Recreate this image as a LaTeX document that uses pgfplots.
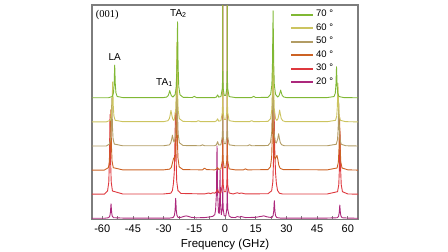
\documentclass[border=0pt]{standalone}
\usepackage{fontspec}
\setmainfont{Liberation Sans}
\newfontfamily\seriffont{Liberation Serif}
\usepackage{pgfplots}
\pgfplotsset{compat=1.18}
\definecolor{c70}{RGB}{128,184,52}
\definecolor{c60}{RGB}{204,196,96}
\definecolor{c50}{RGB}{178,156,100}
\definecolor{c40}{RGB}{204,98,36}
\definecolor{c30}{RGB}{222,56,62}
\definecolor{c20}{RGB}{172,40,124}
\definecolor{framegray}{RGB}{125,125,125}
\begin{document}
\begin{tikzpicture}
\useasboundingbox (0pt,0pt) rectangle (448pt,252pt);
\begin{axis}[
  at={(92pt,32.5pt)}, anchor=south west,
  scale only axis, width=266pt, height=214.5pt,
  xmin=-65, xmax=65, ymin=-0.05, ymax=8.85,
  axis line style={framegray, line width=1.1pt},
  xtick={-60,-45,-30,-15,0,15,30,45,60},
  xticklabels={-60,-45,-30,-15,0,15,30,45,60},
  minor x tick num=1,
  xtick pos=lower,
  tick align=inside,
  major tick length=3pt, minor tick length=3pt,
  tick style={framegray, line width=0.6pt},
  ytick=\empty,
  xticklabel style={font=\fontsize{11}{13}\selectfont, anchor=base, yshift=-13pt},
  xlabel={Frequency (GHz)},
  xlabel style={font=\fontsize{11.5}{13}\selectfont, at={(axis description cs:0.5,-0.13)}, anchor=base},
  reverse legend,
  legend cell align=left,
  legend style={draw=none, fill=none, font=\fontsize{9.5}{11}\selectfont,
    at={(axis description cs:0.744,0.987)}, anchor=north west, inner sep=0pt, row sep=0pt,
    nodes={inner sep=2pt, text height=7pt, text depth=2.5pt}},
  legend image code/.code={\draw[#1, line width=2pt] (0pt,0pt) -- (22pt,0pt);},
  every axis plot/.append style={line width=0.9pt, line join=round},
  clip=true,
]
% 20 deg
\addplot[c20] coordinates {(-65,0)(-59,0)
(-56.9,0.024)(-56.3,0.09)(-56,0.24)(-55.7,0.6)(-55.4,0.24)(-55.1,0.09)(-54.5,0.024)
(-50,0.01)(-27,0.01)
(-25.3,0.033)(-24.7,0.125)(-24.4,0.33)(-24.1,0.83)(-23.8,0.33)(-23.5,0.125)(-22.9,0.033)
(-21.5,0.04)(-20,0.08)(-19,0.1)(-18,0.08)(-16.5,0.04)(-14,0.02)(-10,0.03)(-8,0.05)(-6,0.08)(-5,0.15)
(-4.6,0.35)(-4.2,1.0)(-3.9,3.0)(-3.6,1.0)(-3.2,0.25)
(-2.8,0.2)(-2.6,0.8)(-2.4,2.0)(-2.2,0.6)(-1.8,0.15)
(-1.3,0.4)(-1.1,1.2)(-1.1,20)(-1.1,1.2)(-0.9,0.4)(-0.4,0.1)(0.4,0.1)(0.9,0.4)(1.1,1.2)(1.1,20)(1.1,1.2)(1.3,0.4)(2,0.1)
(3,0.04)(5,0.03)(6,0.07)(7,0.05)(8,0.07)(9,0.05)(10,0.03)(15,0.04)(17,0.07)(19,0.1)(20.5,0.06)(22,0.04)
(22.9,0.03)(23.5,0.11)(23.8,0.29)(24.1,0.73)(24.4,0.29)(24.7,0.11)(25.3,0.03)
(27,0.01)(50,0.01)
(54.9,0.022)(55.5,0.083)(55.8,0.22)(56.1,0.55)(56.4,0.22)(56.7,0.083)(57.3,0.022)
(60,0.01)(65,0)};
\addlegendentry{20 °}
% 30 deg
\addplot[c30] coordinates {(-65,1)(-59,1)
(-57.4,1.132)(-56.8,1.495)(-56.5,2.32)(-56.2,4.3)(-55.9,2.32)(-55.6,1.495)(-55,1.132)
(-50,1.01)(-30,1.01)
(-26.5,1.04)(-25.7,1.15)(-25.2,1.45)(-24.8,1.9)(-24.5,2.9)(-24.2,4.5)(-23.9,2.5)(-23.6,1.55)(-23,1.15)(-21.5,1.03)
(-10,1.01)(-8,1.05)(-7,1.02)(-6,1.06)(-5,1.04)(-4.2,1.1)(-3.6,1.2)(-3.1,1.06)
(-2,1.05)(-1.3,1.4)(-1.1,2.2)(-1.1,21)(-1.1,2.2)(-0.9,1.4)(-0.4,1.1)(0.4,1.1)(0.9,1.4)(1.1,2.2)(1.1,21)(1.1,2.2)(1.3,1.4)(2,1.05)
(4,1.01)(6,1.06)(7,1.03)(8,1.05)(10,1.01)(21,1.02)
(22.8,1.14)(23.4,1.525)(23.7,2.4)(24.0,4.5)(24.3,2.9)(24.7,1.9)(25.1,1.45)(25.7,1.15)(26.6,1.04)(28,1.01)
(50,1.01)
(55,1.104)(55.6,1.39)(55.9,2.04)(56.2,3.6)(56.5,2.04)(56.8,1.39)(57.4,1.104)
(60,1.01)(65,1)};
\addlegendentry{30 °}
% 40 deg
\addplot[c40] coordinates {(-65,2)(-59,2)
(-57,2.1)(-56.4,2.375)(-56.1,3.0)(-55.8,4.5)(-55.5,3.0)(-55.2,2.375)(-54.6,2.1)
(-50,2.01)(-30,2.01)
(-27,2.04)(-26.2,2.12)(-25.6,2.33)(-25.1,2.5)(-24.6,2.45)(-24.2,2.6)(-23.9,3.4)(-23.6,5.4)(-23.3,3.36)(-23,2.51)(-22.4,2.136)(-20.5,2.02)
(-11,2.01)(-10,2.08)(-9,2.02)
(-5,2.01)(-4.2,2.04)(-3.6,2.1)(-3.1,2.03)
(-2,2.05)(-1.3,2.4)(-1.1,3.2)(-1.1,22)(-1.1,3.2)(-0.9,2.4)(-0.4,2.1)(0.4,2.1)(0.9,2.4)(1.1,3.2)(1.1,22)(1.1,3.2)(1.3,2.4)(2,2.05)
(5,2.01)(9,2.01)(10,2.05)(11,2.01)(21,2.02)
(22.2,2.14)(22.8,2.525)(23.1,3.4)(23.4,5.5)(23.7,3.4)(24.0,2.6)(24.5,2.45)(25,2.55)(25.4,2.61)(25.8,2.45)(26.3,2.2)(27,2.07)(28.5,2.02)
(50,2.01)
(54.8,2.088)(55.4,2.33)(55.7,2.88)(56,4.2)(56.3,2.88)(56.6,2.33)(57.2,2.088)
(60,2.01)(65,2)};
\addlegendentry{40 °}
% 50 deg
\addplot[c50] coordinates {(-65,3)(-58,3)
(-56.5,3.08)(-55.9,3.3)(-55.6,3.8)(-55.3,5.0)(-55,3.8)(-54.7,3.3)(-54.1,3.08)
(-50,3.01)(-30,3.01)
(-27.2,3.045)(-26.5,3.126)(-26.1,3.27)(-25.7,3.45)(-25.3,3.27)(-24.9,3.16)
(-24.4,3.3)(-24.1,3.51)(-23.8,4.36)(-23.5,6.4)(-23.2,4.36)(-22.9,3.51)(-22.3,3.136)(-20.5,3.02)
(-12,3.01)(-11,3.05)(-10,3.01)
(-5,3.01)(-4.2,3.05)(-3.6,3.18)(-3.1,3.04)
(-2,3.05)(-1.3,3.4)(-1.1,4.2)(-1.1,23)(-1.1,4.2)(-0.9,3.4)(-0.4,3.1)(0.4,3.1)(0.9,3.4)(1.1,4.2)(1.1,23)(1.1,4.2)(1.3,3.4)(2,3.05)
(5,3.01)(11,3.01)(12,3.05)(13,3.01)(21,3.02)
(22.2,3.14)(22.8,3.525)(23.1,4.4)(23.4,6.5)(23.7,4.4)(24,3.525)(24.6,3.16)
(25.1,3.13)(25.4,3.2)(25.8,3.306)(26.2,3.51)(26.6,3.306)(27,3.143)(27.7,3.051)(29,3.01)
(50,3.01)
(54.4,3.072)(55,3.27)(55.3,3.72)(55.6,4.8)(55.9,3.72)(56.2,3.27)(56.8,3.072)
(59,3.01)(65,3)};
\addlegendentry{50 °}
% 60 deg
\addplot[c60] coordinates {(-65,4)(-58,4)
(-56.1,4.066)(-55.5,4.249)(-55.2,4.664)(-54.9,5.66)(-54.6,4.664)(-54.3,4.249)(-53.7,4.066)
(-50,4.01)(-30,4.01)
(-27.9,4.048)(-27.2,4.134)(-26.8,4.288)(-26.4,4.48)(-26,4.288)(-25.6,4.134)(-25,4.06)
(-24.7,4.132)(-24.1,4.495)(-23.8,5.32)(-23.5,7.3)(-23.2,5.32)(-22.9,4.495)(-22.3,4.132)(-20.5,4.02)
(-14,4.01)(-13,4.05)(-12,4.01)
(-5,4.01)(-4.2,4.04)(-3.6,4.13)(-3.1,4.03)
(-2,4.05)(-1.3,4.4)(-1.1,5.2)(-1.1,24)(-1.1,5.2)(-0.9,4.4)(-0.4,4.1)(0.4,4.1)(0.9,4.4)(1.1,5.2)(1.1,24)(1.1,5.2)(1.3,4.4)(2,4.05)
(5,4.01)(12,4.01)(13,4.05)(14,4.01)(21,4.02)
(22.3,4.14)(22.9,4.525)(23.2,5.4)(23.5,7.5)(23.8,5.4)(24.1,4.525)(24.7,4.14)
(25.3,4.06)(25.9,4.137)(26.3,4.294)(26.7,4.49)(27.1,4.294)(27.5,4.137)(28.2,4.049)(29.5,4.01)
(50,4.01)
(54,4.064)(54.6,4.24)(54.9,4.64)(55.2,5.6)(55.5,4.64)(55.8,4.24)(56.4,4.064)
(59,4.01)(65,4)};
\addlegendentry{60 °}
% 70 deg
\addplot[c70] coordinates {(-65,5)(-57,5)
(-55.1,5.054)(-54.5,5.204)(-54.2,5.544)(-53.9,6.36)(-53.6,5.544)(-53.3,5.204)(-52.7,5.054)
(-50,5.01)(-30,5.01)
(-28.5,5.03)(-27.8,5.084)(-27.4,5.18)(-27,5.3)(-26.6,5.18)(-26.2,5.084)(-25.5,5.03)
(-24.4,5.126)(-23.8,5.47)(-23.5,6.26)(-23.2,8.15)(-22.9,6.26)(-22.6,5.47)(-22.0,5.126)(-20.5,5.02)
(-16,5.01)(-15,5.06)(-14,5.01)
(-5,5.01)(-4.2,5.03)(-3.6,5.12)(-3.1,5.03)
(-2,5.05)(-1.3,5.4)(-1.1,6.2)(-1.1,25)(-1.1,6.2)(-0.9,5.4)(-0.4,5.1)(0.4,5.1)(0.9,5.4)(1.1,6.2)(1.1,25)(1.1,6.2)(1.3,5.4)(2,5.05)
(5,5.01)(13,5.01)(14,5.06)(15,5.01)(21,5.02)
(22.3,5.144)(22.9,5.54)(23.2,6.44)(23.5,8.61)(23.8,6.44)(24.1,5.54)(24.7,5.144)
(25.7,5.032)(26.4,5.09)(26.8,5.19)(27.2,5.32)(27.6,5.19)(28,5.09)(28.7,5.032)(30,5.01)
(50,5.01)
(53.3,5.052)(53.9,5.194)(54.2,5.516)(54.5,6.29)(54.8,5.516)(55.1,5.194)(55.7,5.052)
(58,5.01)(65,5)};
\addlegendentry{70 °}
\node[font=\seriffont\fontsize{10.5}{12}\selectfont] at (axis cs:-57.5,8.44) {(001)};
\node[font=\fontsize{10}{12}\selectfont] at (axis cs:-22.8,8.5) {TA\textsubscript{2}};
\node[font=\fontsize{10}{12}\selectfont] at (axis cs:-53.9,6.68) {LA};
\node[font=\fontsize{10}{12}\selectfont] at (axis cs:-29.6,5.63) {TA\textsubscript{1}};
\end{axis}
\end{tikzpicture}
\end{document}
